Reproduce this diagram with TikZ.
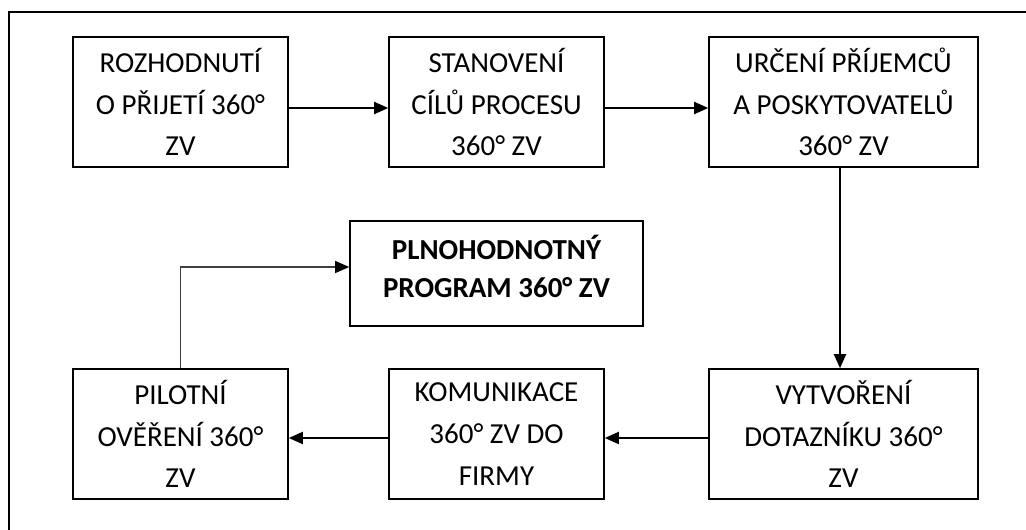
\documentclass[tikz,border=0pt]{standalone}
\usepackage{fontspec}
\setmainfont{Carlito}
\usetikzlibrary{arrows.meta,calc}
\tikzset{%
  stagebox/.style = {shape=rectangle, draw, line width=1.6pt,%
                     align=center, inner sep=0pt,%
                     minimum width=215pt, minimum height=130pt,%
                     font=\fontsize{29}{41.7}\selectfont},%
  widebox/.style  = {stagebox, minimum width=269pt},%
  goalbox/.style  = {stagebox, minimum width=293pt, minimum height=105pt,%
                     text depth=15pt,%
                     font=\fontsize{29}{38}\selectfont\bfseries},%
  flow/.style     = {line width=2pt, -{Triangle[length=14pt,width=12pt]}},%
  thinflow/.style = {line width=1.1pt, black!75, -{Triangle[length=14pt,width=12pt,color=black]}}%
}

\begin{document}
\begin{tikzpicture}[x=1pt,y=-1pt]
	\useasboundingbox (0,0) rectangle (1026,530);
	% outer frame, cut off right and below
	\draw[line width=1.6pt] (1026,12) -- (9,12) -- (9,530);
	% upper row
	\node[stagebox] (rozhodnuti) at (180.5,102) {ROZHODNUTÍ\\O PŘIJETÍ 360°\\ZV};%
	\node[stagebox] (stanoveni) at (496.5,102) {STANOVENÍ\\CÍLŮ PROCESU\\360° ZV};%
	\node[widebox] (urceni) at (843.5,102) {URČENÍ PŘÍJEMCŮ\\A POSKYTOVATELŮ\\360° ZV};%
	% lower row
	\node[stagebox] (pilotni) at (180.5,434) {PILOTNÍ\\OVĚŘENÍ 360°\\ZV};%
	\node[stagebox] (komunikace) at (496.5,434) {KOMUNIKACE\\360° ZV DO\\FIRMY};%
	\node[widebox] (vytvoreni) at (843.5,434) {VYTVOŘENÍ\\DOTAZNÍKU 360°\\ZV};%
	% result
	\node[goalbox] (program) at (496.5,273.5) {PLNOHODNOTNÝ\\PROGRAM 360° ZV};%
	% connectors
	\draw[flow] ([yshift=-6pt]rozhodnuti.east) -- ([yshift=-6pt]stanoveni.west);
	\draw[flow] ([yshift=-6pt]stanoveni.east) -- ([yshift=-6pt]urceni.west);
	\draw[flow] ([xshift=-3.5pt]urceni.south) -- ([xshift=-3.5pt]vytvoreni.north);
	\draw[flow] ([yshift=-4pt]vytvoreni.west) -- ([yshift=-4pt]komunikace.east);
	\draw[flow] ([yshift=-4pt]komunikace.west) -- ([yshift=-4pt]pilotni.east);
	\draw[thinflow] (pilotni.north) |- ([yshift=6.5pt]program.west);
\end{tikzpicture}
\end{document}
